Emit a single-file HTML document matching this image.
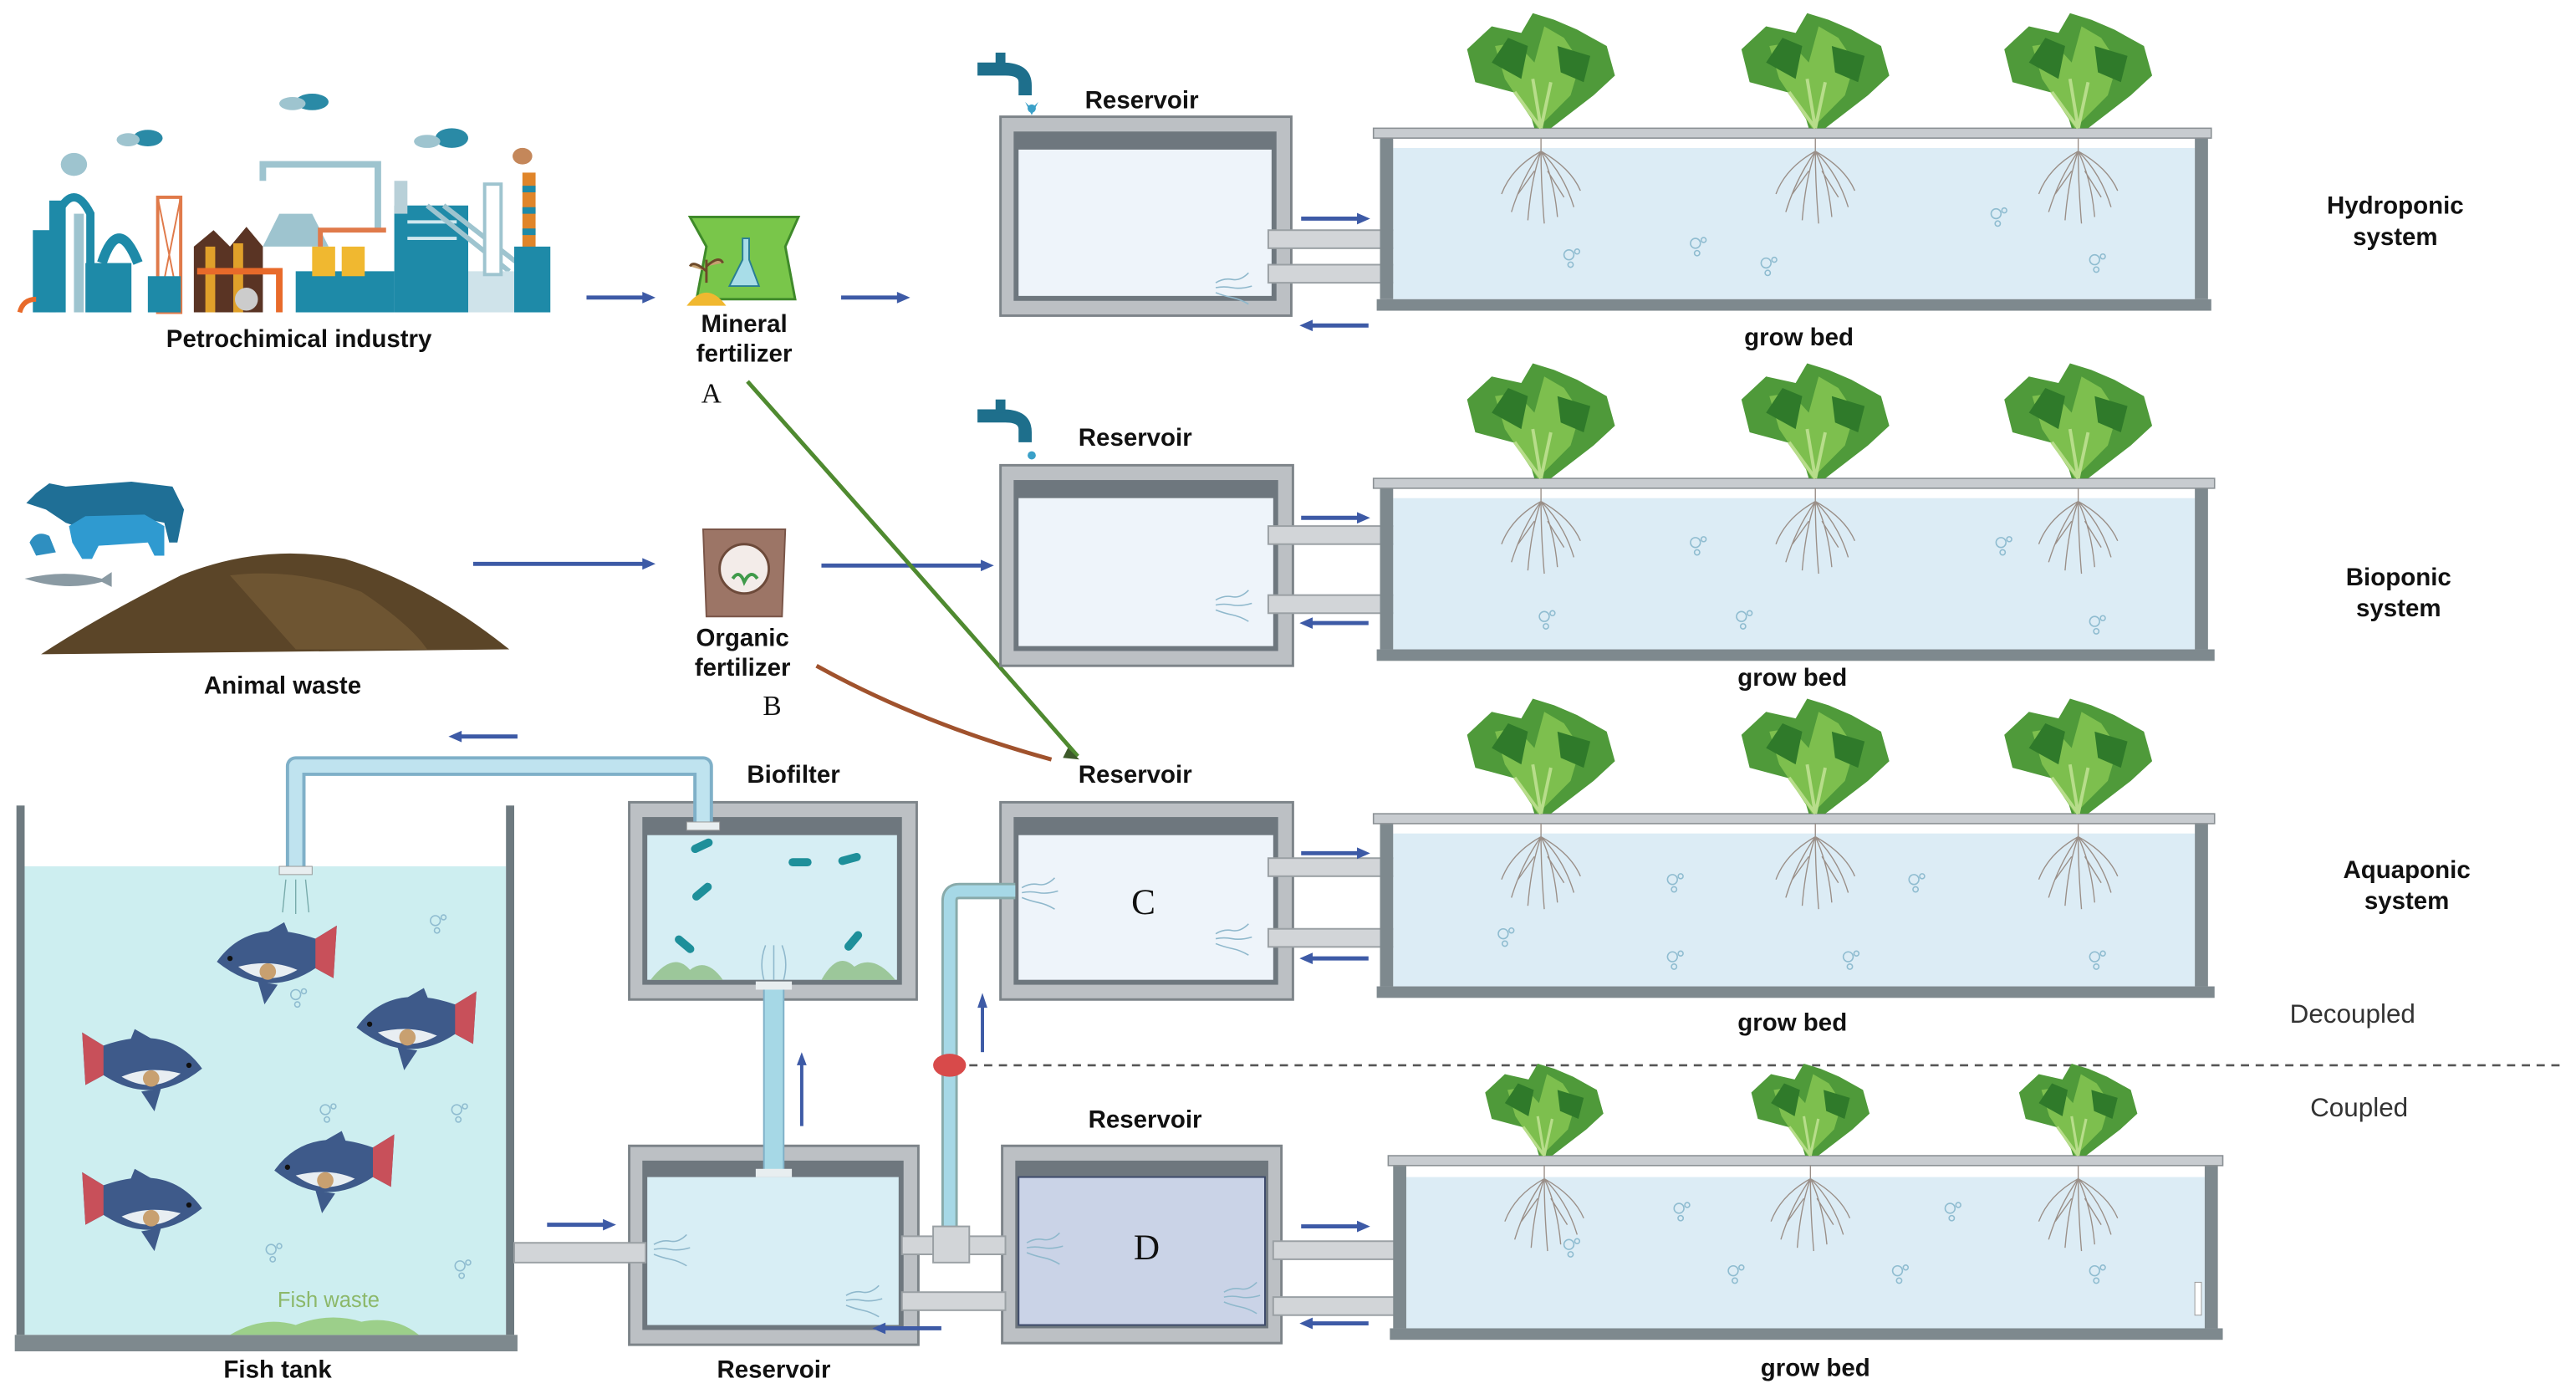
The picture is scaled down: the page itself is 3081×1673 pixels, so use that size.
<!DOCTYPE html>
<html><head><meta charset="utf-8"><style>html,body{margin:0;padding:0;background:#fff}svg{display:block}</style></head>
<body>
<svg width="3081" height="1673" viewBox="0 0 1568 851" preserveAspectRatio="none" xmlns="http://www.w3.org/2000/svg" font-family="Liberation Sans, sans-serif">
<defs>
<g id="plant">
 <path d="M-4,0 L-10,-20 L-40,-28 L-45,-48 L-30,-62 L-12,-58 L-5,-70 L8,-66 L22,-60 L40,-50 L45,-32 L32,-20 L6,0 Z" fill="#4f9a3a"/>
 <path d="M-2,0 L-22,-30 L-28,-50 L-15,-52 L-4,-40 L2,-62 L14,-55 L24,-40 L18,-20 Z" fill="#7dbf4e"/>
 <path d="M-30,-40 L-20,-55 L-8,-50 L-12,-30 Z M10,-50 L30,-44 L26,-28 L12,-34 Z" fill="#2f7a2a"/>
 <path d="M0,0 L-5,-30 M0,0 L6,-28 M0,0 L-16,-22" stroke="#b7dd8a" stroke-width="2" fill="none"/>
</g>
<g id="roots" stroke="#9a8f88" stroke-width="0.7" fill="none">
 <path d="M0,0 L0,8 M0,8 Q-12,25 -18,45 M0,8 Q-6,25 -8,50 M0,8 Q0,28 2,52 M0,8 Q8,25 10,48 M0,8 Q14,22 20,42 M0,8 Q-18,18 -24,34 M0,8 Q18,18 24,32 M-4,20 L-14,34 M4,20 L14,36"/>
</g>
<g id="arR"><path d="M0,0 L38,0" stroke="#3d5aa6" stroke-width="2.5"/><path d="M34,-3.5 L42,0 L34,3.5 Z" fill="#3d5aa6"/></g>
<g id="arL"><path d="M0,0 L38,0" stroke="#3d5aa6" stroke-width="2.5"/><path d="M4,-3.5 L-4,0 L4,3.5 Z" fill="#3d5aa6"/></g>
<g id="bub" fill="none" stroke="#8fbcd0" stroke-width="0.8"><circle cx="0" cy="0" r="3"/><circle cx="5" cy="-2" r="1.5"/><circle cx="1" cy="6" r="1.6"/></g>
<g id="wave" fill="none" stroke="#8fb8cc" stroke-width="0.8"><path d="M0,0 q5,-3 10,-2 t10,-4 M0,3 q5,-1 10,0 t12,-1 M0,6 q5,2 10,3 t10,4"/></g>
<g id="fish">
 <path d="M-5,0 Q15,-28 55,-14 L68,-22 L66,10 L55,4 Q25,24 -5,0 Z" fill="#3e5a8a"/>
 <path d="M55,-14 L68,-22 L66,10 L55,4 Z" fill="#c8505a"/>
 <path d="M8,3 Q25,16 44,5 Q28,-2 8,3 Z" fill="#e8eef2"/>
 <circle cx="26" cy="6" r="5" fill="#c8a070"/>
 <path d="M20,12 L24,26 L32,14 Z M22,-16 L36,-24 L40,-14 Z" fill="#3e5a8a"/>
 <circle cx="3" cy="-2" r="1.6" fill="#111"/>
</g>
</defs>

<!-- Factory -->
<g>
 <ellipse cx="190" cy="62" rx="10" ry="5" fill="#2a8aa6"/><ellipse cx="178" cy="63" rx="8" ry="4" fill="#9ec4cf"/>
 <ellipse cx="90" cy="84" rx="9" ry="5" fill="#2a8aa6"/><ellipse cx="78" cy="85" rx="7" ry="4" fill="#9ec4cf"/>
 <ellipse cx="275" cy="84" rx="10" ry="6" fill="#2a8aa6"/><ellipse cx="260" cy="86" rx="8" ry="4" fill="#9ec4cf"/>
 <ellipse cx="45" cy="100" rx="8" ry="7" fill="#9ec4cf"/><ellipse cx="318" cy="95" rx="6" ry="5" fill="#c4875a"/>
 <rect x="20" y="140" width="14" height="50" fill="#1e8aa8"/><rect x="30" y="122" width="10" height="68" fill="#1e8aa8"/>
 <path d="M35,130 Q45,110 55,130 L55,190" stroke="#1e8aa8" stroke-width="5" fill="none"/>
 <rect x="52" y="160" width="28" height="30" fill="#1e8aa8"/>
 <path d="M62,160 Q72,130 84,160" stroke="#1e8aa8" stroke-width="6" fill="none"/>
 <rect x="45" y="130" width="6" height="60" fill="#9ec4cf"/>
 <rect x="96" y="120" width="14" height="70" fill="#fff" stroke="#e07a4a" stroke-width="2"/>
 <path d="M96,120 L110,190 M110,120 L96,190" stroke="#e07a4a" stroke-width="1"/>
 <rect x="90" y="168" width="20" height="22" fill="#1e8aa8"/>
 <path d="M118,190 L118,150 L130,140 L140,150 L150,138 L160,150 L160,190 Z" fill="#5a3424"/>
 <rect x="125" y="150" width="6" height="40" fill="#e0a02a"/><rect x="142" y="148" width="6" height="42" fill="#e0a02a"/>
 <path d="M120,165 L170,165 L170,190" stroke="#e86a2a" stroke-width="4" fill="none"/>
 <circle cx="150" cy="182" r="7" fill="#ccc"/>
 <path d="M160,110 L160,100 L230,100 L230,140" stroke="#9ec4cf" stroke-width="4" fill="none"/>
 <path d="M160,150 L170,130 L190,130 L200,150 Z" fill="#9ec4cf"/>
 <rect x="180" y="165" width="60" height="25" fill="#1e8aa8"/>
 <rect x="190" y="150" width="14" height="18" fill="#f0b830"/><rect x="208" y="150" width="14" height="18" fill="#f0b830"/>
 <path d="M195,150 L195,140 L235,140" stroke="#e07a4a" stroke-width="3" fill="none"/>
 <rect x="240" y="125" width="45" height="65" fill="#1e8aa8"/>
 <path d="M248,135 L278,135 M248,145 L278,145" stroke="#cfe8ef" stroke-width="2"/>
 <rect x="240" y="110" width="8" height="20" fill="#b8d0d8"/>
 <path d="M260,125 L310,165 M270,125 L315,160" stroke="#9ec4cf" stroke-width="3"/>
 <rect x="285" y="165" width="30" height="25" fill="#cfe3ea"/>
 <rect x="295" y="112" width="10" height="55" fill="#fff" stroke="#9ec4cf" stroke-width="2"/>
 <rect x="318" y="105" width="8" height="55" fill="#e0852a"/>
 <path d="M318,115 L326,115 M318,128 L326,128 M318,141 L326,141" stroke="#1e8aa8" stroke-width="4"/>
 <rect x="313" y="150" width="22" height="40" fill="#1e8aa8"/>
 <path d="M12,190 Q14,182 22,182" stroke="#e86a2a" stroke-width="3" fill="none"/>
</g>
<text x="182" y="211" font-size="15" font-weight="bold" text-anchor="middle" fill="#111">Petrochimical industry</text>
<use href="#arR" x="357" y="181"/>

<!-- Mineral fertilizer -->
<path d="M420,132 L486,132 L478,150 L484,182 L424,182 L430,150 Z" fill="#79c64a" stroke="#3f8a2a" stroke-width="1.5"/>
<path d="M452,145 L452,158 L444,174 L462,174 L456,158 L456,145 Z" fill="#a8dde8" stroke="#2a7e94" stroke-width="1"/>
<path d="M418,186 Q430,170 442,186 Z" fill="#f0b830"/>
<path d="M430,172 L430,158 M430,165 Q422,158 420,162 M430,162 Q438,155 440,160" stroke="#6d4a2a" stroke-width="1.5" fill="#c4a070"/>
<text x="453" y="202" font-size="15" font-weight="bold" text-anchor="middle" fill="#111">Mineral</text>
<text x="453" y="220" font-size="15" font-weight="bold" text-anchor="middle" fill="#111">fertilizer</text>
<text x="433" y="245" font-size="17" font-family="Liberation Serif, serif" text-anchor="middle" fill="#111">A</text>
<use href="#arR" x="512" y="181"/>

<!-- Animal waste -->
<path d="M22,300 L30,294 L40,296 L80,293 L105,296 L112,310 L108,330 L103,330 L100,318 L90,316 L75,330 L40,318 L28,310 L16,306 Z" fill="#1f6f96"/>
<path d="M42,320 L52,314 L88,313 L100,320 L100,338 L94,338 L90,330 L60,332 L56,340 L50,340 L44,330 Z" fill="#2f9ad0"/>
<path d="M18,330 Q22,322 30,326 L34,336 L22,338 Z" fill="#2f8fc0"/>
<path d="M15,352 Q40,346 62,352 L68,348 L68,357 L62,354 Q40,360 15,352 Z" fill="#8a9aa3"/>
<path d="M25,398 Q60,375 110,350 Q160,330 210,340 Q260,355 310,395 Z" fill="#5b4528"/>
<path d="M140,350 Q180,345 220,360 Q250,380 260,395 L180,395 Z" fill="#6e5532"/>
<text x="172" y="422" font-size="15" font-weight="bold" text-anchor="middle" fill="#111">Animal waste</text>
<path d="M288,343 L395,343" stroke="#3d5aa6" stroke-width="2.5"/><path d="M391,339.5 L399,343 L391,346.5 Z" fill="#3d5aa6"/>

<!-- Organic fertilizer -->
<path d="M428,322 L478,322 L476,375 L430,375 Z" fill="#9c7566" stroke="#7a5548" stroke-width="1"/>
<circle cx="453" cy="346" r="15" fill="#f3ece9" stroke="#6d4a3a" stroke-width="1.5"/>
<path d="M446,352 Q450,346 453,354 Q457,346 461,352" stroke="#3f9a4a" stroke-width="2" fill="none"/>
<text x="452" y="393" font-size="15" font-weight="bold" text-anchor="middle" fill="#111">Organic</text>
<text x="452" y="411" font-size="15" font-weight="bold" text-anchor="middle" fill="#111">fertilizer</text>
<text x="470" y="435" font-size="17" font-family="Liberation Serif, serif" text-anchor="middle" fill="#111">B</text>
<path d="M500,344 L600,344" stroke="#3d5aa6" stroke-width="2.5"/><path d="M597,340.5 L605,344 L597,347.5 Z" fill="#3d5aa6"/>

<!-- connecting curves -->
<path d="M455,232 Q560,350 656,460" stroke="#4f8a30" stroke-width="2.5" fill="none"/>
<path d="M497,405 Q560,440 640,462" stroke="#a0522d" stroke-width="2.5" fill="none"/>
<path d="M650,455 L657,462 L647,461 Z" fill="#3d5a2a"/>

<!-- Taps -->
<g fill="#1e6f8c">
 <path d="M595,38 L610,38 Q628,38 628,52 L628,58 L620,58 L620,50 Q620,46 612,46 L595,46 Z"/>
 <rect x="606" y="32" width="6" height="8"/>
 <path d="M595,249 L610,249 Q628,249 628,263 L628,269 L620,269 L620,261 Q620,257 612,257 L595,257 Z"/>
 <rect x="606" y="243" width="6" height="8"/>
</g>
<path d="M624,62 L628,66 L632,62 L628,70" fill="#3aa0c8"/><circle cx="628" cy="66" r="2.5" fill="#3aa0c8"/>
<circle cx="628" cy="277" r="2.5" fill="#3aa0c8"/>

<!-- Reservoir boxes -->
<g stroke="#7d8489" stroke-width="1.5">
 <rect x="609" y="71" width="177" height="121" fill="#bcc0c4"/>
 <rect x="609" y="283" width="178" height="122" fill="#bcc0c4"/>
 <rect x="609" y="488" width="178" height="120" fill="#bcc0c4"/>
 <rect x="610" y="697" width="170" height="120" fill="#bcc0c4"/>
 <rect x="383" y="488" width="175" height="120" fill="#bcc0c4"/>
 <rect x="383" y="697" width="176" height="121" fill="#bcc0c4"/>
</g>
<g>
 <rect x="617" y="80" width="160" height="103" fill="#6e777e"/><rect x="620" y="91" width="154" height="89" fill="#eef4fa"/>
 <rect x="617" y="292" width="161" height="104" fill="#6e777e"/><rect x="620" y="303" width="155" height="90" fill="#eef4fa"/>
 <rect x="617" y="497" width="161" height="102" fill="#6e777e"/><rect x="620" y="508" width="155" height="88" fill="#eef4fa"/>
 <rect x="618" y="706" width="154" height="102" fill="#6e777e"/><rect x="620" y="716" width="150" height="90" fill="#cad3e7" stroke="#3d4a6a" stroke-width="1"/>
 <rect x="391" y="497" width="158" height="102" fill="#6e777e"/><rect x="394" y="508" width="152" height="88" fill="#d6eef4"/>
 <rect x="391" y="706" width="159" height="103" fill="#6e777e"/><rect x="394" y="716" width="153" height="90" fill="#d8eef5"/>
</g>
<text x="695" y="66" font-size="15" font-weight="bold" text-anchor="middle" fill="#111">Reservoir</text>
<text x="691" y="271" font-size="15" font-weight="bold" text-anchor="middle" fill="#111">Reservoir</text>
<text x="691" y="476" font-size="15" font-weight="bold" text-anchor="middle" fill="#111">Reservoir</text>
<text x="697" y="686" font-size="15" font-weight="bold" text-anchor="middle" fill="#111">Reservoir</text>
<text x="483" y="476" font-size="15" font-weight="bold" text-anchor="middle" fill="#111">Biofilter</text>
<text x="471" y="838" font-size="15" font-weight="bold" text-anchor="middle" fill="#111">Reservoir</text>
<text x="696" y="556" font-size="22" font-family="Liberation Serif, serif" text-anchor="middle" fill="#111">C</text>
<text x="698" y="766" font-size="22" font-family="Liberation Serif, serif" text-anchor="middle" fill="#111">D</text>

<!-- biofilter contents -->
<path d="M396,596 Q410,578 420,590 Q430,582 440,596 Z M500,596 Q510,578 520,588 Q532,580 545,596 Z" fill="#9cc79a"/>
<g fill="#1e8f9a"><rect x="420" y="512" width="14" height="5" rx="2.5" transform="rotate(-25 427 514)"/><rect x="480" y="522" width="14" height="5" rx="2.5"/><rect x="510" y="520" width="14" height="5" rx="2.5" transform="rotate(-15 517 522)"/><rect x="420" y="540" width="14" height="5" rx="2.5" transform="rotate(-40 427 542)"/><rect x="410" y="572" width="14" height="5" rx="2.5" transform="rotate(40 417 574)"/><rect x="512" y="570" width="14" height="5" rx="2.5" transform="rotate(-50 519 572)"/></g>
<path d="M465,596 Q462,585 466,575 M471,596 L471,575 M477,596 Q480,585 476,575" stroke="#8fb8cc" stroke-width="0.8" fill="none"/>

<!-- Fish tank -->
<rect x="15" y="527" width="293" height="285" fill="#cdeef0"/>
<rect x="10" y="490" width="5" height="322" fill="#6e7a80"/>
<rect x="308" y="490" width="5" height="322" fill="#6e7a80"/>
<rect x="9" y="812" width="306" height="10" fill="#7e898e"/>
<path d="M140,812 Q160,800 180,806 Q200,798 220,804 Q240,800 255,812 Z" fill="#9ccf8a"/>
<text x="200" y="795" font-size="13" text-anchor="middle" fill="#8cb86a">Fish waste</text>
<text x="169" y="838" font-size="15" font-weight="bold" text-anchor="middle" fill="#111">Fish tank</text>
<use href="#fish" x="137" y="585"/>
<use href="#fish" x="222" y="625"/>
<use href="#fish" transform="translate(118,650) scale(-1,1)"/>
<use href="#fish" x="172" y="712"/>
<use href="#fish" transform="translate(118,735) scale(-1,1)"/>
<use href="#bub" x="265" y="560"/><use href="#bub" x="180" y="605"/><use href="#bub" x="198" y="675"/><use href="#bub" x="278" y="675"/><use href="#bub" x="165" y="760"/><use href="#bub" x="280" y="770"/>

<!-- pipes: tank top to biofilter -->
<path d="M180,527 L180,466 L428,466 L428,500" stroke="#7fb0c8" stroke-width="12" fill="none" stroke-linejoin="round"/>
<path d="M180,527 L180,466 L428,466 L428,500" stroke="#bfe3ef" stroke-width="8" fill="none" stroke-linejoin="round"/>
<rect x="170" y="527" width="20" height="5" fill="#e8eef0" stroke="#999" stroke-width="0.5"/>
<rect x="418" y="500" width="20" height="5" fill="#e8eef0" stroke="#999" stroke-width="0.5"/>
<path d="M174,535 L172,555 M180,535 L180,556 M186,535 L188,555" stroke="#7aa" stroke-width="0.7"/>
<use href="#arL" x="277" y="448"/>
<!-- biofilter to lower reservoir -->
<rect x="465" y="598" width="12" height="114" fill="#a6d8e6" stroke="#7fb0c8" stroke-width="1"/>
<rect x="460" y="597" width="22" height="5" fill="#e8eef0"/><rect x="460" y="711" width="22" height="5" fill="#e8eef0"/>
<path d="M488,685 L488,645" stroke="#3d5aa6" stroke-width="2"/><path d="M485,648 L488,640 L491,648 Z" fill="#3d5aa6"/>
<!-- vertical pipe to C -->
<path d="M578,755 L578,548 Q578,542 584,542 L618,542" stroke="#8aa" stroke-width="10" fill="none"/>
<path d="M578,755 L578,548 Q578,542 584,542 L618,542" stroke="#a6d8e6" stroke-width="7" fill="none"/>
<ellipse cx="578" cy="648" rx="10" ry="7" fill="#d84a4a"/>
<path d="M598,640 L598,610" stroke="#3d5aa6" stroke-width="2"/><path d="M595,613 L598,604 L601,613 Z" fill="#3d5aa6"/>
<!-- dashed line -->
<path d="M590,648 L1560,648" stroke="#555" stroke-width="1.3" stroke-dasharray="5,4"/>

<!-- horizontal connector pipes -->
<g fill="#d2d5d8" stroke="#9aa0a4" stroke-width="1">
 <rect x="313" y="756" width="80" height="12"/>
 <rect x="549" y="752" width="63" height="11"/><rect x="549" y="786" width="63" height="11"/>
 <rect x="568" y="746" width="22" height="22"/>
 <rect x="772" y="140" width="80" height="11"/><rect x="772" y="161" width="80" height="11"/>
 <rect x="772" y="320" width="80" height="11"/><rect x="772" y="362" width="80" height="11"/>
 <rect x="772" y="522" width="80" height="11"/><rect x="772" y="565" width="80" height="11"/>
 <rect x="775" y="755" width="80" height="11"/><rect x="775" y="789" width="80" height="11"/>
</g>
<use href="#arR" x="333" y="745"/>
<use href="#arL" x="535" y="808"/>
<use href="#arR" x="792" y="133"/><use href="#arL" x="795" y="198"/>
<use href="#arR" x="792" y="315"/><use href="#arL" x="795" y="379"/>
<use href="#arR" x="792" y="519"/><use href="#arL" x="795" y="583"/>
<use href="#arR" x="792" y="746"/><use href="#arL" x="795" y="805"/>
<use href="#wave" x="740" y="172"/><use href="#wave" x="740" y="365"/><use href="#wave" x="740" y="568"/><use href="#wave" x="745" y="786"/><use href="#wave" x="398" y="757"/><use href="#wave" x="515" y="788"/><use href="#wave" x="622" y="540"/><use href="#wave" x="625" y="756"/>
<use href="#wave" x="856" y="143"/><use href="#wave" x="856" y="323"/><use href="#wave" x="856" y="525"/><use href="#wave" x="858" y="757"/>

<!-- Grow beds -->
<g>
 <rect x="848" y="90" width="488" height="92" fill="#dcecf5"/>
 <rect x="840" y="84" width="8" height="98" fill="#7e898e"/><rect x="1336" y="84" width="8" height="98" fill="#7e898e"/>
 <rect x="836" y="78" width="510" height="6" fill="#c8ccd0" stroke="#8a9094" stroke-width="0.8"/>
 <rect x="838" y="182" width="508" height="7" fill="#7e898e"/>

 <rect x="848" y="303" width="488" height="92" fill="#dcecf5"/>
 <rect x="840" y="297" width="8" height="98" fill="#7e898e"/><rect x="1336" y="297" width="8" height="98" fill="#7e898e"/>
 <rect x="836" y="291" width="512" height="6" fill="#c8ccd0" stroke="#8a9094" stroke-width="0.8"/>
 <rect x="838" y="395" width="510" height="7" fill="#7e898e"/>

 <rect x="848" y="507" width="488" height="93" fill="#dcecf5"/>
 <rect x="840" y="501" width="8" height="99" fill="#7e898e"/><rect x="1336" y="501" width="8" height="99" fill="#7e898e"/>
 <rect x="836" y="495" width="512" height="6" fill="#c8ccd0" stroke="#8a9094" stroke-width="0.8"/>
 <rect x="838" y="600" width="510" height="7" fill="#7e898e"/>

 <rect x="856" y="716" width="486" height="92" fill="#dcecf5"/>
 <rect x="848" y="709" width="8" height="99" fill="#7e898e"/><rect x="1342" y="709" width="8" height="99" fill="#7e898e"/>
 <rect x="845" y="703" width="508" height="6" fill="#c8ccd0" stroke="#8a9094" stroke-width="0.8"/>
 <rect x="846" y="808" width="507" height="7" fill="#7e898e"/>
</g>
<g>
 <use href="#plant" x="938" y="78"/><use href="#plant" x="1105" y="78"/><use href="#plant" x="1265" y="78"/>
 <use href="#roots" x="938" y="84"/><use href="#roots" x="1105" y="84"/><use href="#roots" x="1265" y="84"/>
 <use href="#plant" x="938" y="291"/><use href="#plant" x="1105" y="291"/><use href="#plant" x="1265" y="291"/>
 <use href="#roots" x="938" y="297"/><use href="#roots" x="1105" y="297"/><use href="#roots" x="1265" y="297"/>
 <use href="#plant" x="938" y="495"/><use href="#plant" x="1105" y="495"/><use href="#plant" x="1265" y="495"/>
 <use href="#roots" x="938" y="501"/><use href="#roots" x="1105" y="501"/><use href="#roots" x="1265" y="501"/>
 <use href="#plant" transform="translate(940,703) scale(0.8)"/><use href="#plant" transform="translate(1102,703) scale(0.8)"/><use href="#plant" transform="translate(1265,703) scale(0.8)"/>
 <use href="#roots" x="940" y="709"/><use href="#roots" x="1102" y="709"/><use href="#roots" x="1265" y="709"/>
</g>
<use href="#bub" x="955" y="155"/><use href="#bub" x="1032" y="148"/><use href="#bub" x="1075" y="160"/><use href="#bub" x="1215" y="130"/><use href="#bub" x="1275" y="158"/>
<use href="#bub" x="1032" y="330"/><use href="#bub" x="1218" y="330"/><use href="#bub" x="940" y="375"/><use href="#bub" x="1060" y="375"/><use href="#bub" x="1275" y="378"/>
<use href="#bub" x="1018" y="535"/><use href="#bub" x="1165" y="535"/><use href="#bub" x="915" y="568"/><use href="#bub" x="1018" y="582"/><use href="#bub" x="1125" y="582"/><use href="#bub" x="1275" y="582"/>
<use href="#bub" x="955" y="757"/><use href="#bub" x="1022" y="735"/><use href="#bub" x="1055" y="773"/><use href="#bub" x="1155" y="773"/><use href="#bub" x="1187" y="735"/><use href="#bub" x="1275" y="773"/>
<rect x="1336" y="780" width="4" height="20" fill="#fff" stroke="#999" stroke-width="0.5"/>

<text x="1095" y="210" font-size="15" font-weight="bold" text-anchor="middle" fill="#111">grow bed</text>
<text x="1091" y="417" font-size="15" font-weight="bold" text-anchor="middle" fill="#111">grow bed</text>
<text x="1091" y="627" font-size="15" font-weight="bold" text-anchor="middle" fill="#111">grow bed</text>
<text x="1105" y="837" font-size="15" font-weight="bold" text-anchor="middle" fill="#111">grow bed</text>

<g font-size="15" font-weight="bold" text-anchor="middle" fill="#111">
 <text x="1458" y="130">Hydroponic</text><text x="1458" y="149">system</text>
 <text x="1460" y="356">Bioponic</text><text x="1460" y="375">system</text>
 <text x="1465" y="534">Aquaponic</text><text x="1465" y="553">system</text>
</g>
<text x="1432" y="622" font-size="16" text-anchor="middle" fill="#333">Decoupled</text>
<text x="1436" y="679" font-size="16" text-anchor="middle" fill="#333">Coupled</text>
</svg>
</body></html>
